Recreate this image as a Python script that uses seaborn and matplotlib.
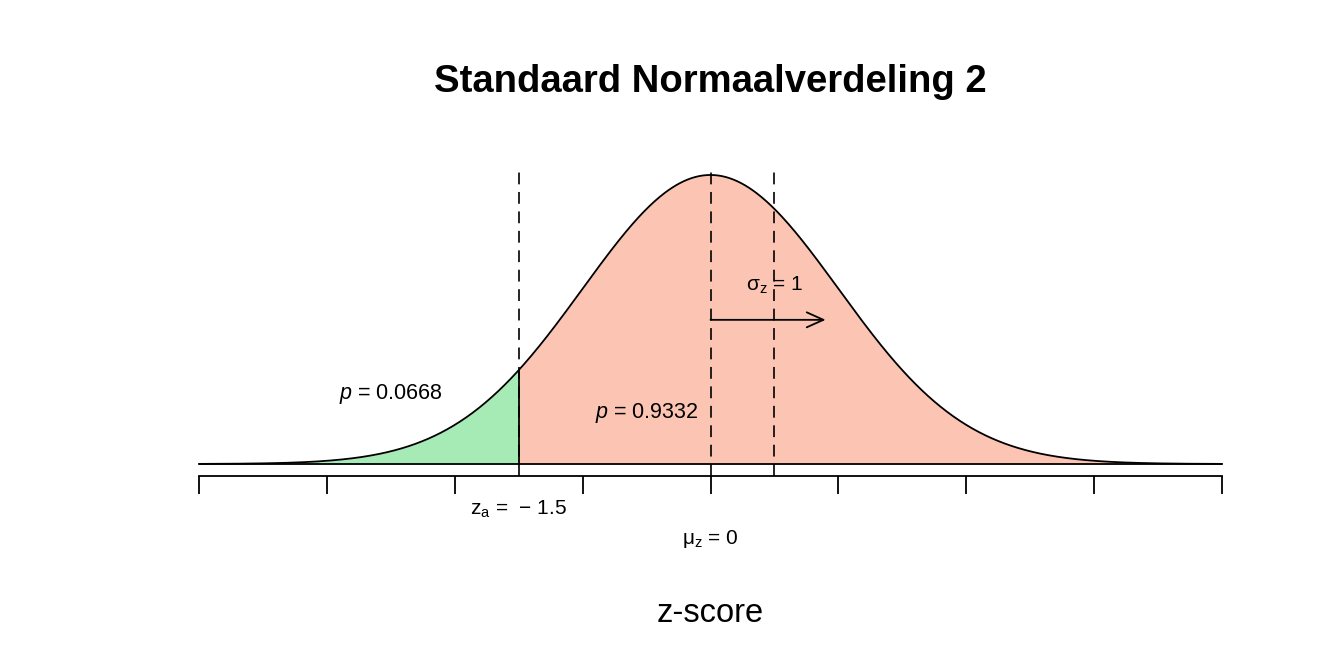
import numpy as np
import pandas as pd
import matplotlib
matplotlib.use("Agg")
import matplotlib.pyplot as plt
import seaborn as sns

# ---- chart values ----
title = "Standaard Normaalverdeling 2"
xlabel = "z-score"
mu = 0.0
sigma = 1.0
z_a = -1.5
sigma_line = 0.5          # position of the dashed "sigma" line as drawn
arrow_end = 0.9           # arrow tip as drawn
p_left = 0.0668
p_right = 0.9332
x_range = [-4, 4]
tick_positions = [-4, -3, -2, -1, 0, 1, 2, 3, 4]
green = "#a6ebb6"
salmon = "#fcc5b3"

sns.set_theme(style="white")
plt.rcParams["font.family"] = ["Liberation Sans", "DejaVu Sans"]
plt.rcParams["mathtext.fontset"] = "custom"
plt.rcParams["mathtext.rm"] = "Liberation Sans"
plt.rcParams["mathtext.it"] = "Liberation Sans:italic"
plt.rcParams["lines.scale_dashes"] = False
plt.rcParams["text.color"] = "black"

x = np.linspace(x_range[0], x_range[1], 801)
dens = np.exp(-0.5 * ((x - mu) / sigma) ** 2) / (sigma * np.sqrt(2 * np.pi))
df = pd.DataFrame({"z": x, "density": dens})

fig = plt.figure(figsize=(13.44, 6.72), dpi=100)
px = 0.3989 / 289.0
ybot = -12 * px
ytop = 299 * px
ax = fig.add_axes([199 / 1344, (672 - 476) / 672, (1222 - 199) / 1344, (476 - 165) / 672])
ax.set_xlim(*x_range)
ax.set_ylim(ybot, ytop)

left = df[df.z <= z_a]
right = df[df.z >= z_a]
ax.fill_between(left.z, 0, left.density, color=green, lw=0, zorder=1)
ax.fill_between(right.z, 0, right.density, color=salmon, lw=0, zorder=1)
sns.lineplot(data=df, x="z", y="density", color="black", lw=1.3, ax=ax, zorder=3, clip_on=False)
ax.plot(x_range, [0, 0], color="black", lw=1.3, zorder=3, clip_on=False)

dash = (0, (8.5, 5.5))
for xv in [z_a, mu, sigma_line]:
    ax.plot([xv, xv], [ybot, ytop], color="black", lw=1.2, ls=dash, zorder=4, clip_on=False)
ax.plot([z_a, z_a], [0, np.exp(-0.5 * z_a ** 2) / np.sqrt(2 * np.pi)], color="black", lw=1.3, zorder=4)

ax.annotate("", xy=(arrow_end, 0.199), xytext=(mu, 0.199),
            arrowprops=dict(arrowstyle="->,head_length=1.0,head_width=0.45", color="black", lw=1.3,
                            shrinkA=0, shrinkB=0))

ax.text(-2.5, (464 - 394) * px, r"$p$ = " + f"{p_left:.4f}", ha="center", va="center", fontsize=15.5)
ax.text(-0.5, (464 - 413) * px, r"$p$ = " + f"{p_right:.4f}", ha="center", va="center", fontsize=15.5)
ax.text(0.5, (464 - 285) * px, r"σ$_{\mathrm{z}}$ = 1", ha="center", va="center", fontsize=15)
ax.text(z_a, (464 - 509) * px, r"$\mathrm{z}_{\mathrm{a}}$ =  $-$ 1.5", ha="center", va="center", fontsize=15, clip_on=False)
ax.text(mu, (464 - 539) * px, r"μ$_{\mathrm{z}}$ = 0", ha="center", va="center", fontsize=15, clip_on=False)
ax.text(mu, (464 - 614) * px, xlabel, ha="center", va="center", fontsize=23.5, clip_on=False)
fig.text(710 / 1344, 1 - 82 / 672, title, ha="center", va="center", fontsize=27.5, fontweight="bold")

for s in ["top", "right", "left"]:
    ax.spines[s].set_visible(False)
ax.spines["bottom"].set_color("black")
ax.spines["bottom"].set_linewidth(1.3)
ax.set_xticks(tick_positions)
ax.set_xticklabels([""] * len(tick_positions))
ax.set_yticks([])
ax.tick_params(axis="x", direction="out", length=13, width=1.3, color="black", bottom=True)
ax.set_xlabel("")
ax.set_ylabel("")

fig.savefig("out.png", dpi=100)
